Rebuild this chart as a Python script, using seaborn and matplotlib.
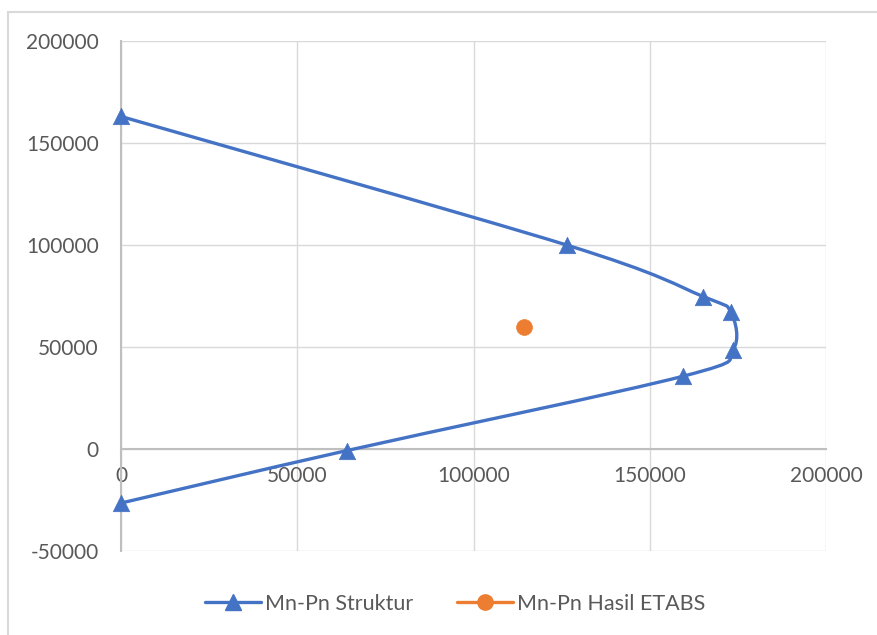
import numpy as np
import pandas as pd
import matplotlib
matplotlib.use("Agg")
import matplotlib.pyplot as plt
from matplotlib.path import Path
from matplotlib.patches import PathPatch, Rectangle
from matplotlib.lines import Line2D
import seaborn as sns

# Interaction diagram (Mn-Pn) points
mn_struktur = [0, 126400, 165200, 173000, 173500, 159500, 64000, 0]
pn_struktur = [163000, 100000, 74700, 67000, 48300, 35700, -800, -26500]

# Demand from ETABS
mn_etabs = [114400]
pn_etabs = [59800]

x_ticks = [0, 50000, 100000, 150000, 200000]
y_ticks = [-50000, 0, 50000, 100000, 150000, 200000]

series_names = ["Mn-Pn Struktur", "Mn-Pn Hasil ETABS"]

BLUE = "#4472C4"
ORANGE = "#ED7D31"
GRID = "#D9D9D9"
AXIS = "#BFBFBF"
TEXT = "#595959"

sns.set_style("white")
plt.rcParams["font.family"] = ["Lato", "DejaVu Sans"]

W, H = 878, 635
fig = plt.figure(figsize=(W / 100, H / 100), dpi=100)
ax = fig.add_axes([121 / W, 1 - 551 / H, (826 - 121) / W, (551 - 41) / H])

df_s = pd.DataFrame({"Mn": mn_struktur, "Pn": pn_struktur})
df_e = pd.DataFrame({"Mn": mn_etabs, "Pn": pn_etabs})


def smooth_path(xs, ys):
    """Cubic Bezier path through the points (Catmull-Rom style tangents)."""
    pts = np.column_stack([xs, ys]).astype(float)
    n = len(pts)
    verts = [pts[0]]
    codes = [Path.MOVETO]
    for i in range(n - 1):
        p0 = pts[i - 1] if i > 0 else pts[i]
        p1 = pts[i]
        p2 = pts[i + 1]
        p3 = pts[i + 2] if i + 2 < n else pts[i + 1]
        c1 = p1 + (p2 - p0) / 6.0
        c2 = p2 - (p3 - p1) / 6.0
        verts += [c1, c2, p2]
        codes += [Path.CURVE4] * 3
    return Path(verts, codes)


ax.add_patch(PathPatch(smooth_path(df_s["Mn"], df_s["Pn"]), facecolor="none",
                       edgecolor=BLUE, lw=2.4, zorder=3, capstyle="round",
                       clip_on=False))

sns.scatterplot(data=df_s, x="Mn", y="Pn", ax=ax, marker="^", s=140,
                color=BLUE, edgecolor=BLUE, linewidth=0.5, zorder=4,
                legend=False, clip_on=False)
sns.scatterplot(data=df_e, x="Mn", y="Pn", ax=ax, marker="o", s=130,
                color=ORANGE, edgecolor=ORANGE, linewidth=0.5, zorder=4,
                legend=False, clip_on=False)

ax.set_xlim(0, 200000)
ax.set_ylim(-50000, 200000)
ax.set_xticks(x_ticks)
ax.set_yticks(y_ticks)
ax.set_xticklabels([str(v) for v in x_ticks])
ax.set_yticklabels([str(v) for v in y_ticks])
ax.set_xlabel("")
ax.set_ylabel("")

ax.grid(True, color=GRID, lw=1.0, zorder=0)
ax.set_axisbelow(True)

for side in ["top", "right"]:
    ax.spines[side].set_visible(False)
ax.spines["bottom"].set_position(("data", 0))
ax.spines["bottom"].set_color(AXIS)
ax.spines["bottom"].set_linewidth(1.5)
ax.spines["left"].set_color(AXIS)
ax.spines["left"].set_linewidth(1.5)
ax.tick_params(axis="both", length=0, labelsize=15, labelcolor=TEXT)
ax.tick_params(axis="x", pad=12)
ax.tick_params(axis="y", pad=16)

handles = [
    Line2D([], [], color=BLUE, lw=2.4, marker="^", markersize=11,
           markeredgecolor=BLUE),
    Line2D([], [], color=ORANGE, lw=2.4, marker="o", markersize=11,
           markeredgecolor=ORANGE),
]
fig.legend(handles, series_names, loc="center", ncol=2, frameon=False,
           bbox_to_anchor=(455 / W, 1 - 604 / H), fontsize=15.5,
           labelcolor=TEXT, handlelength=2.6, handletextpad=0.2,
           columnspacing=2.0)

# chart area border
fig.patches.append(Rectangle((8 / W, -0.1), 1.2, (1 - 12 / H) + 0.1,
                             transform=fig.transFigure, fill=False,
                             edgecolor=GRID, lw=1.5, zorder=0))

fig.savefig("out.png", dpi=100)
